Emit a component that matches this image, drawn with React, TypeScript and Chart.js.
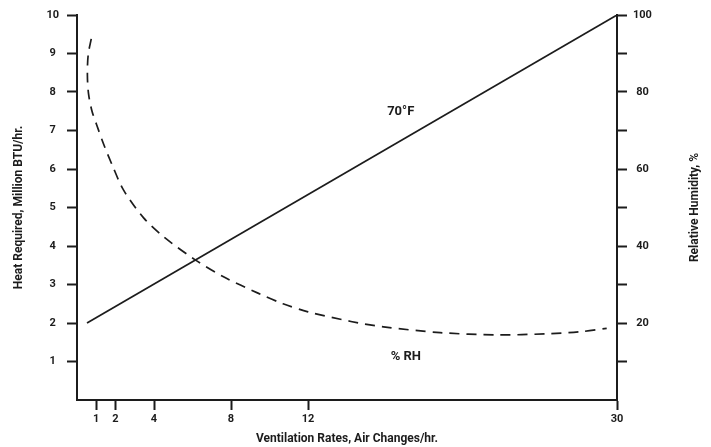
import React, { useEffect, useRef } from 'react';
import { Chart, registerables } from 'chart.js';

Chart.register(...registerables);

// X axis: labelled values and where the (hand-drawn, compressed) axis places them
const xTickLabels = [1, 2, 4, 8, 12, 30];
const xTickPositions = [1, 2, 4, 8, 12, 28.05];

// Heat required at 70°F (Million BTU/hr) vs ventilation rate
const heatX = [0.52, 30];
const heatY = [2, 10];

// Relative humidity (%) vs ventilation rate
const rhX = [0.74, 0.58, 0.54, 0.6, 0.78, 1.02, 1.38, 1.83, 2.42, 3.46, 4.5, 6.14, 7.61, 9.43, 10.7, 12.0, 14.5, 16.4, 19.7, 23.0, 25.9, 27.8, 29.4];
const rhY = [93.8, 89.6, 84.4, 79.5, 75.0, 71.5, 66.5, 61.0, 54.5, 47.3, 42.4, 36.4, 32.0, 27.7, 25.0, 22.9, 20.4, 19.0, 17.5, 16.9, 17.2, 17.7, 18.6];

// Curve labels (x in air changes/hr, y in left-axis units)
const labelTexts = ['70°F', '% RH'];
const labelX = [17.4, 17.7];
const labelY = [7.5, 1.12];

const FONT = 'Roboto, "Open Sans", sans-serif';
const INK = '#1c1c1c';

function axisPos(v: number): number {
  const L = xTickLabels, P = xTickPositions;
  if (v <= L[0]) return (v / L[0]) * P[0];
  for (let i = 1; i < L.length; i++) {
    if (v <= L[i]) {
      const t = (v - L[i - 1]) / (L[i] - L[i - 1]);
      return P[i - 1] + t * (P[i] - P[i - 1]);
    }
  }
  return P[P.length - 1];
}

export default function App() {
  const ref = useRef<HTMLCanvasElement | null>(null);

  useEffect(() => {
    if (!ref.current) return;
    const tickFont = { family: FONT, size: 11, weight: 'bold' as const };
    const titleFont = { family: FONT, size: 12, weight: 'bold' as const };

    const labelsPlugin = {
      id: 'extraText',
      afterDraw(chart: any) {
        const ctx = chart.ctx;
        const { top, bottom } = chart.chartArea;
        ctx.save();
        ctx.fillStyle = INK;
        ctx.font = `bold 12px ${FONT}`;
        ctx.textAlign = 'center';
        ctx.textBaseline = 'middle';
        ctx.translate(694.5, (top + bottom) / 2);
        ctx.rotate(-Math.PI / 2);
        ctx.fillText('Relative Humidity, %', 0, 0);
        ctx.restore();

        ctx.save();
        ctx.fillStyle = INK;
        ctx.font = `bold 13px ${FONT}`;
        ctx.textAlign = 'center';
        ctx.textBaseline = 'middle';
        const xs = chart.scales.x, ys = chart.scales.y;
        labelTexts.forEach((t, i) => {
          ctx.fillText(t, xs.getPixelForValue(axisPos(labelX[i])), ys.getPixelForValue(labelY[i]));
        });
        ctx.restore();
      },
    };

    const hideZero = (c: any) => (c.tick && c.tick.value === 0 ? 'rgba(0,0,0,0)' : INK);

    const chart = new Chart(ref.current, {
      type: 'line',
      data: {
        datasets: [
          {
            label: '70°F',
            data: heatX.map((x, i) => ({ x: axisPos(x), y: heatY[i] })),
            borderColor: INK,
            borderWidth: 1.7,
            pointRadius: 0,
            yAxisID: 'y',
            tension: 0,
          },
          {
            label: '% RH',
            data: rhX.map((x, i) => ({ x: axisPos(x), y: rhY[i] })),
            borderColor: INK,
            borderWidth: 1.7,
            borderDash: [10, 7],
            pointRadius: 0,
            yAxisID: 'y2',
            tension: 0.3,
          },
        ],
      },
      options: {
        responsive: false,
        animation: false,
        layout: { padding: { top: 15, left: 0, right: 0, bottom: 0 } },
        plugins: { legend: { display: false }, tooltip: { enabled: false } },
        scales: {
          x: {
            type: 'linear',
            position: 'bottom',
            min: 0,
            max: xTickPositions[xTickPositions.length - 1],
            afterBuildTicks: (s: any) => {
              s.ticks = xTickPositions.map((v) => ({ value: v }));
            },
            afterFit: (s: any) => {
              s.height = 47;
            },
            ticks: {
              autoSkip: false,
              maxRotation: 0,
              padding: 3,
              color: INK,
              font: tickFont,
              callback: (_v: any, i: number) => String(xTickLabels[i]),
            },
            grid: { drawOnChartArea: false, drawTicks: true, tickLength: 10, tickWidth: 2, tickColor: INK },
            border: { color: INK, width: 2 },
            title: {
              display: true,
              text: 'Ventilation Rates, Air Changes/hr.',
              color: INK,
              font: titleFont,
              padding: { top: 0, bottom: 1 },
            },
          },
          y: {
            position: 'left',
            min: 0,
            max: 10,
            afterFit: (s: any) => {
              s.width = 77;
            },
            ticks: {
              stepSize: 1,
              padding: 8,
              crossAlign: 'center',
              color: INK,
              font: tickFont,
              callback: (v: any) => (v === 0 ? '' : String(v)),
            },
            grid: { drawOnChartArea: false, drawTicks: true, tickLength: 10, tickWidth: 2, tickColor: hideZero },
            border: { color: INK, width: 2 },
            title: {
              display: true,
              text: 'Heat Required, Million BTU/hr.',
              color: INK,
              font: titleFont,
              padding: { top: 12, bottom: 0 },
            },
          },
          y2: {
            position: 'right',
            min: 0,
            max: 100,
            afterFit: (s: any) => {
              s.width = 94;
            },
            ticks: {
              stepSize: 10,
              padding: 6,
              crossAlign: 'center',
              color: INK,
              font: tickFont,
              callback: (v: any) => (v > 0 && v % 20 === 0 ? String(v) : ''),
            },
            grid: { drawOnChartArea: false, drawTicks: true, tickLength: 10, tickWidth: 2, tickColor: hideZero },
            border: { color: INK, width: 2 },
          },
        },
      },
      plugins: [labelsPlugin],
    });
    return () => chart.destroy();
  }, []);

  return (
    <div style={{ position: 'fixed', left: 0, top: 0, width: 711, height: 447, background: '#fff' }}>
      <canvas ref={ref} width={711} height={447} style={{ width: 711, height: 447, display: 'block' }} />
    </div>
  );
}
